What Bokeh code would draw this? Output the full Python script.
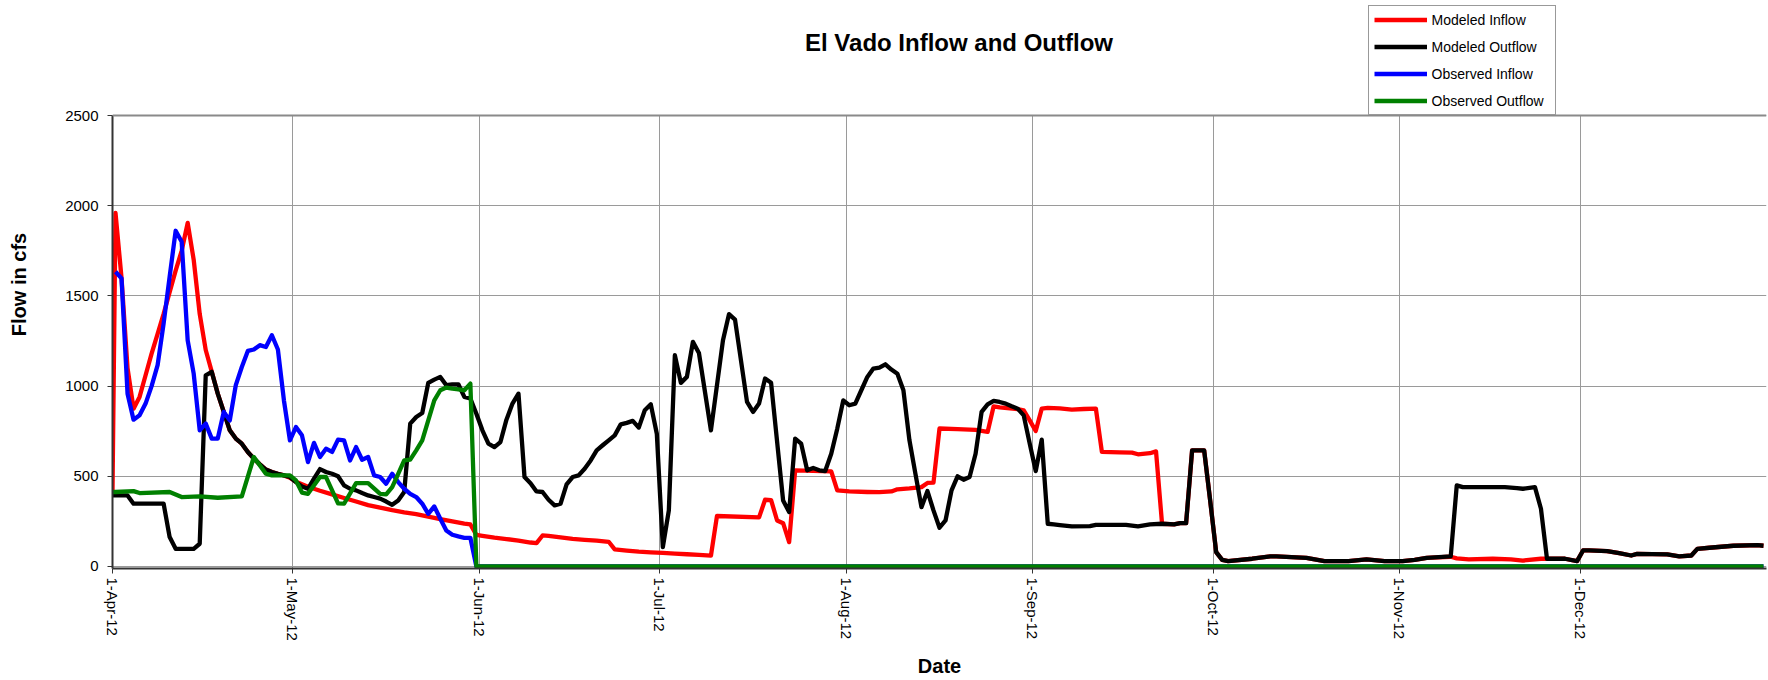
from bokeh.plotting import figure
from bokeh.models import Range1d, FixedTicker, Legend, LegendItem, Span, Label, Grid
from bokeh.embed import file_html
from bokeh.resources import INLINE

# ---- axis data ----
tick_days = [0, 30, 61, 91, 122, 153, 183, 214, 244]   # day index, 0 = 1-Apr-2012
tick_labels = ["1-Apr-12", "1-May-12", "1-Jun-12", "1-Jul-12", "1-Aug-12",
               "1-Sep-12", "1-Oct-12", "1-Nov-12", "1-Dec-12"]
end_day = 275                                         # 1-Jan-2013 (right edge)
y_ticks = [0, 500, 1000, 1500, 2000, 2500]

# ---- series (day index, flow in cfs); day -0.5 = value drawn at the left axis ----
mod_in_day = [-0.5, 0, 1, 2, 3, 4, 5, 6, 7, 8, 9, 10, 11, 12, 13, 14, 15, 16, 17, 18, 19, 20,
              21, 22, 23, 24, 25, 26, 27, 28, 29, 30, 32, 34, 36, 38, 40, 42, 44, 46, 48,
              50, 52, 54, 56, 58, 59, 60, 61, 63, 65, 67, 69, 70, 71, 72, 74, 76, 78, 80,
              82, 83, 85, 87, 89, 91, 93, 95, 97, 99, 100, 107, 108, 109, 110, 111, 112,
              113, 116, 119, 120, 122, 125, 127, 129, 130, 132, 134, 135, 136, 137, 140,
              143, 145, 146, 147, 150, 151, 152, 153, 154, 155, 157, 159, 161, 163, 164,
              167, 169, 170, 172, 173, 174, 176, 177, 178, 179, 181, 182, 183, 184, 185,
              189, 192, 193, 198, 201, 205, 208, 211, 214, 216, 218, 222, 223, 225, 229,
              232, 234, 237, 238, 241, 243, 244, 245, 248, 250, 252, 253, 258, 260, 262,
              263, 265, 269, 273, 274]
mod_in_cfs = [410, 1960, 1600, 1100, 875, 940, 1060, 1180, 1290, 1400, 1520, 1640, 1750, 1905,
              1700, 1400, 1200, 1080, 958, 857, 755, 709, 681, 635, 598, 566, 537, 524, 514,
              505, 492, 470, 442, 420, 400, 380, 360, 340, 326, 312, 300, 290, 276, 263, 250,
              238, 233, 175, 170, 160, 152, 144, 133, 130, 172, 170, 162, 153, 148, 143, 137,
              95, 88, 82, 78, 75, 71, 68, 64, 60, 280, 272, 370, 368, 255, 240, 135, 533, 530,
              527, 422, 416, 413, 412, 416, 428, 433, 440, 463, 465, 765, 762, 757, 746, 888,
              882, 872, 866, 810, 751, 875, 879, 877, 870, 873, 875, 635, 633, 631, 622, 628,
              638, 237, 233, 240, 240, 644, 644, 366, 80, 37, 30, 43, 56, 56, 48, 30, 30, 39,
              30, 30, 37, 48, 54, 45, 39, 43, 39, 33, 43, 43, 43, 30, 89, 89, 85, 74, 61, 70,
              67, 56, 61, 98, 104, 115, 118, 115]

mod_out_day = [-0.5, 0, 2, 3, 8, 9, 10, 13, 14, 15, 16, 17, 18, 19, 20, 21, 22, 23, 24, 25, 26, 27,
               28, 29, 30, 31, 32, 33, 34, 35, 36, 37, 38, 39, 40, 41, 42, 43, 44, 45, 46, 47,
               48, 49, 50, 51, 52, 53, 54, 55, 56, 57, 58, 59, 60, 61, 62, 63, 64, 65, 66, 67,
               68, 69, 70, 71, 72, 73, 74, 75, 76, 77, 78, 79, 80, 81, 82, 83, 84, 85, 86, 87,
               88, 89, 90, 91, 92, 93, 94, 95, 96, 97, 99, 101, 102, 103, 105, 106, 107, 108,
               109, 111, 112, 113, 114, 115, 116, 117, 118, 119, 120, 121, 122, 123, 124, 125,
               126, 127, 128, 129, 130, 131, 132, 133, 134, 135, 136, 137, 138, 139, 140, 141,
               142, 143, 144, 145, 146, 147, 148, 149, 150, 151, 152, 153, 154, 155, 156, 157,
               159, 162, 163, 168, 170, 172, 174, 176, 177, 178, 179, 181, 182, 183, 184, 185,
               189, 192, 193, 198, 201, 205, 208, 211, 214, 216, 218, 222, 223, 224, 229, 231,
               233, 234, 236, 237, 238, 241, 243, 244, 245, 248, 250, 252, 253, 258, 260, 262,
               263, 265, 269, 273, 274]
mod_out_cfs = [394, 394, 394, 348, 348, 163, 98, 98, 126, 1060, 1079, 958, 857, 755, 709, 681, 635,
               598, 566, 537, 524, 514, 505, 496, 468, 444, 431, 487, 540, 524, 514, 500, 450,
               431, 422, 407, 394, 385, 376, 360, 342, 366, 413, 792, 829, 851, 1018, 1036,
               1051, 1005, 1010, 1010, 940, 931, 847, 755, 681, 662, 690, 814, 903, 958, 496,
               462, 416, 413, 370, 339, 348, 455, 496, 505, 542, 588, 644, 672, 699, 727, 788,
               796, 807, 770, 866, 899, 736, 107, 311, 1171, 1018, 1051, 1245, 1184, 755, 1254,
               1399, 1369, 912, 857, 903, 1042, 1018, 366, 302, 709, 681, 533, 546, 533, 529,
               625, 764, 921, 894, 903, 977, 1051, 1097, 1103, 1121, 1092, 1069, 977, 700, 514,
               329, 418, 311, 215, 255, 422, 500, 481, 496, 625, 857, 899, 918, 912, 903, 888,
               875, 838, 681, 529, 703, 237, 233, 229, 222, 224, 231, 231, 222, 233, 237, 233,
               240, 240, 644, 644, 366, 80, 37, 30, 43, 56, 56, 48, 30, 30, 39, 30, 30, 37, 48,
               56, 450, 440, 440, 440, 435, 431, 440, 320, 43, 43, 30, 89, 89, 85, 74, 61, 70,
               67, 56, 61, 98, 104, 115, 118, 115]

obs_in_day = list(range(0, 61)) + [274]
obs_in_cfs = [1634, 1597, 958, 814, 838, 903, 1000, 1116, 1347, 1606, 1861, 1800, 1254, 1069,
              755, 792, 709, 709, 857, 810, 1005, 1106, 1195, 1203, 1227, 1217, 1282, 1203, 921,
              699, 773, 727, 579, 685, 607, 653, 635, 703, 699, 588, 662, 592, 607, 505, 496,
              459, 514, 468, 431, 403, 385, 348, 292, 333, 265, 200, 176, 167, 159, 159, 0, 0]

obs_out_day = [-0.5, 0, 3, 4, 9, 11, 14, 17, 21, 23, 25, 26, 29, 30, 31, 32, 34, 35, 37, 38, 40, 42,
               44, 45, 46, 47, 48, 49, 50, 51, 52, 53, 54, 55, 56, 57, 58, 59, 60, 274]
obs_out_cfs = [413, 413, 418, 407, 413, 385, 389, 381, 389, 607, 514, 505, 505, 477, 410, 403, 496,
               496, 350, 348, 462, 462, 403, 400, 440, 514, 588, 592, 644, 699, 810, 921, 977,
               992, 986, 982, 977, 1014, 0, 0]

FONT = "Liberation Sans"
Y_MAX = 2500
# the frame also holds the title/legend strip above the 2500 line
FRAME_Y = (-11.1, 3137.5)

p = figure(width=1768, height=680, x_range=Range1d(0, end_day), y_range=Range1d(*FRAME_Y),
           output_backend="svg", toolbar_location=None,
           min_border_left=112, min_border_right=2, min_border_top=0, min_border_bottom=112,
           background_fill_color="white", border_fill_color="white")
p.outline_line_color = None

# grid
p.xgrid.ticker = FixedTicker(ticks=tick_days)
p.ygrid.ticker = FixedTicker(ticks=y_ticks)
p.grid.grid_line_color = "#9a9a9a"
p.grid.grid_line_width = 1
p.xgrid.cross_bounds = (FRAME_Y[0], Y_MAX)

# right border of the plot area
p.add_layout(Grid(dimension=0, ticker=FixedTicker(ticks=[end_day]), grid_line_color="#8a8a8a",
                  grid_line_width=2, cross_bounds=(FRAME_Y[0], Y_MAX)))
# top border of the plot area
p.add_layout(Span(location=Y_MAX, dimension="width", line_color="#8a8a8a", line_width=2))

# x axis
p.xaxis.ticker = FixedTicker(ticks=tick_days)
p.xaxis.major_label_overrides = {d: s for d, s in zip(tick_days, tick_labels)}
p.xaxis.major_label_orientation = "vertical"
p.xaxis.axis_label = "Date"
p.xaxis.axis_label_standoff = 11
p.xaxis.major_label_standoff = 4

# y axis
p.yaxis.ticker = FixedTicker(ticks=y_ticks)
p.yaxis.bounds = (FRAME_Y[0], Y_MAX)
p.yaxis.axis_label = "Flow in cfs"
p.yaxis.axis_label_standoff = 32
p.yaxis.major_label_standoff = 9

for ax in (p.xaxis[0], p.yaxis[0]):
    ax.axis_line_color = "#333333"
    ax.axis_line_width = 2
    ax.major_tick_line_color = "#333333"
    ax.major_tick_line_width = 1
    ax.major_tick_in = 0
    ax.major_tick_out = 5
    ax.minor_tick_line_color = None
    ax.major_label_text_font = FONT
    ax.major_label_text_font_size = "15px"
    ax.major_label_text_color = "black"
    ax.axis_label_text_font = FONT
    ax.axis_label_text_font_size = "20px"
    ax.axis_label_text_font_style = "bold"
    ax.axis_label_text_color = "black"

# title
p.add_layout(Label(text="El Vado Inflow and Outflow", x=692.5, y=526.3,
                   x_units="screen", y_units="screen",
                   text_font=FONT, text_font_size="24px", text_font_style="bold",
                   text_color="black", text_align="left", text_baseline="middle"))

# series: daily values plotted at mid-day
def mid(days):
    return [d + 0.5 for d in days]

LW = 4.3
r1 = p.line(mid(mod_in_day), mod_in_cfs, line_color="#FF0000", line_width=LW, line_join="round")
r2 = p.line(mid(mod_out_day), mod_out_cfs, line_color="#000000", line_width=LW, line_join="round")
r3 = p.line(mid(obs_in_day), obs_in_cfs, line_color="#0000FF", line_width=LW, line_join="round")
r4 = p.line(mid(obs_out_day), obs_out_cfs, line_color="#008000", line_width=LW, line_join="round")

legend = Legend(items=[LegendItem(label="Modeled Inflow", renderers=[r1]),
                       LegendItem(label="Modeled Outflow", renderers=[r2]),
                       LegendItem(label="Observed Inflow", renderers=[r3]),
                       LegendItem(label="Observed Outflow", renderers=[r4])],
                location=(1255.6, 453), orientation="vertical", margin=0,
                padding=5, spacing=10, glyph_width=53, glyph_height=17, label_height=17,
                label_width=118, label_standoff=5,
                label_text_font=FONT, label_text_font_size="14px", label_text_color="black",
                border_line_color="#333333", border_line_width=1,
                background_fill_color="white", background_fill_alpha=1.0)
p.add_layout(legend)

open("out.html", "w").write(file_html(p, INLINE))
